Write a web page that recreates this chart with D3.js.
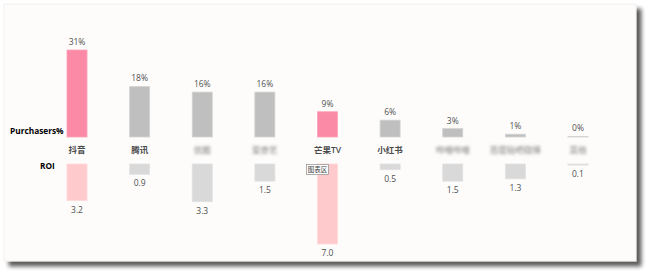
<!DOCTYPE html>
<html><head><meta charset="utf-8">
<script src="https://cdn.jsdelivr.net/npm/d3@7/dist/d3.min.js"></script>
<style>
html,body{margin:0;padding:0;background:#fff;}
svg{display:block;font-family:"Open Sans","Noto Sans CJK SC",sans-serif;}
</style></head>
<body>
<svg id="c" width="649" height="274"></svg>
<script>
const categories = ["抖音","腾讯","优酷","爱奇艺","芒果TV","小红书","哔哩哔哩","百度贴吧微博","其他"];
const purchasers = [31,18,16,16,9,6,3,1,0.2];
const purchaserLabels = ["31%","18%","16%","16%","9%","6%","3%","1%","0%"];
const roi = [3.2,0.9,3.3,1.5,7.0,0.5,1.5,1.3,0.1];
const roiLabels = ["3.2","0.9","3.3","1.5","7.0","0.5","1.5","1.3","0.1"];
const highlighted = ["抖音","芒果TV"];
const blurred = ["优酷","爱奇艺","哔哩哔哩","百度贴吧微博","其他"];

const svg = d3.select("#c");
const defs = svg.append("defs");
const sh = defs.append("filter").attr("id","sh").attr("x","-5%").attr("y","-5%").attr("width","115%").attr("height","120%");
sh.append("feGaussianBlur").attr("in","SourceAlpha").attr("stdDeviation",2);
sh.append("feOffset").attr("dx",5).attr("dy",5).attr("result","b");
sh.append("feComponentTransfer").append("feFuncA").attr("type","linear").attr("slope",0.65);
const m = sh.append("feMerge"); m.append("feMergeNode"); m.append("feMergeNode").attr("in","SourceGraphic");
defs.append("filter").attr("id","bl").attr("x","-20%").attr("y","-50%").attr("width","140%").attr("height","200%")
  .append("feGaussianBlur").attr("stdDeviation",1.4);

// panel
svg.append("rect").attr("x",4).attr("y",4).attr("width",632).attr("height",257)
  .attr("fill","#fdfcfb").attr("stroke","#f0eeec").attr("stroke-width",0.8).attr("filter","url(#sh)");

const x = d3.scaleBand().domain(categories).range([45.7,609.3]).paddingInner(0.68).paddingOuter(0.34);
const yTop = d3.scaleLinear().domain([0,31]).range([137,50]);
const yBot = d3.scaleLinear().domain([0,7]).range([164,244]);
const bw = x.bandwidth();

const isHi = d => highlighted.includes(d);

// top bars
svg.append("g").selectAll("rect").data(categories).join("rect")
  .attr("x",d=>x(d)).attr("width",bw)
  .attr("y",(d,i)=>yTop(purchasers[i])).attr("height",(d,i)=>yTop(0)-yTop(purchasers[i]))
  .attr("fill",d=>isHi(d)?"#fa8aa5":"#bfbfbf")
  .attr("stroke",d=>isHi(d)?"#fba5bb":"#d4d4d4").attr("stroke-width",0.8);

svg.append("g").selectAll("text").data(categories).join("text")
  .attr("x",d=>x(d)+bw/2).attr("y",(d,i)=>yTop(purchasers[i])-5)
  .attr("text-anchor","middle").attr("font-size",8.5).attr("fill","#505050")
  .text((d,i)=>purchaserLabels[i]);

// bottom bars
svg.append("g").selectAll("rect").data(categories).join("rect")
  .attr("x",d=>x(d)).attr("width",bw)
  .attr("y",yBot(0)).attr("height",(d,i)=>yBot(roi[i])-yBot(0))
  .attr("fill",d=>isHi(d)?"#ffcacc":"#d9d9d9")
  .attr("stroke",d=>isHi(d)?"#ffd9da":"#e2e2e2").attr("stroke-width",0.8);

svg.append("g").selectAll("text").data(categories).join("text")
  .attr("x",d=>x(d)+bw/2).attr("y",(d,i)=>yBot(roi[i])+12)
  .attr("text-anchor","middle").attr("font-size",8.5).attr("fill","#505050")
  .text((d,i)=>roiLabels[i]);

// category labels
svg.append("g").selectAll("text").data(categories).join("text")
  .attr("x",d=>x(d)+bw/2).attr("y",152.5)
  .attr("text-anchor","middle").attr("font-size",8.5).attr("font-weight",600).attr("fill","#4a4a4a")
  .attr("filter",d=>blurred.includes(d)?"url(#bl)":null)
  .attr("opacity",d=>blurred.includes(d)?0.5:1)
  .text(d=>d);

// row titles
svg.append("text").attr("x",10).attr("y",134).attr("font-size",8.3).attr("font-weight","bold").attr("fill","#000").text("Purchasers%");
svg.append("text").attr("x",40).attr("y",169).attr("font-size",8.3).attr("font-weight","bold").attr("fill","#000").text("ROI");

// tooltip
const tt = svg.append("g");
tt.append("rect").attr("x",306.5).attr("y",164.5).attr("width",22).attr("height",10)
  .attr("fill","#fff").attr("stroke","#8a8a8a").attr("stroke-width",0.7);
tt.append("text").attr("x",317.5).attr("y",172).attr("text-anchor","middle").attr("font-size",6.5).attr("fill","#404040").text("图表区");
</script>
</body></html>
